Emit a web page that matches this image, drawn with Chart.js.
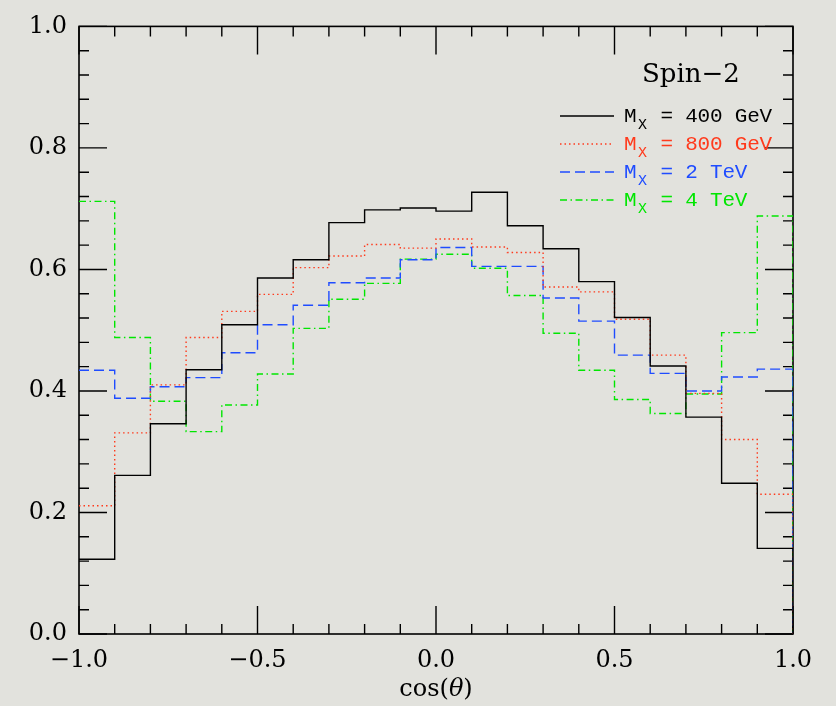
<!DOCTYPE html>
<html>
<head>
<meta charset="utf-8">
<script src="https://cdn.jsdelivr.net/npm/chart.js@4.4.1/dist/chart.umd.min.js"></script>
<style>
  html, body { margin: 0; padding: 0; background: #e2e2dd; }
  #c { display: block; }
</style>
</head>
<body>
<canvas id="c" width="836" height="706"></canvas>
<script>
// lower edge of each cos(theta) bin, width 0.1
var binLow = [-1.0, -0.9, -0.8, -0.7, -0.6, -0.5, -0.4, -0.3, -0.2, -0.1,
               0.0,  0.1,  0.2,  0.3,  0.4,  0.5,  0.6,  0.7,  0.8,  0.9];
var binHigh = 1.0;

var m400 = [0.123, 0.261, 0.346, 0.435, 0.509, 0.586, 0.616, 0.677, 0.698, 0.701,
            0.696, 0.727, 0.672, 0.634, 0.580, 0.521, 0.441, 0.357, 0.248, 0.141];
var m800 = [0.211, 0.331, 0.410, 0.488, 0.531, 0.559, 0.603, 0.622, 0.641, 0.635,
            0.650, 0.637, 0.628, 0.571, 0.563, 0.518, 0.459, 0.396, 0.320, 0.230];
var m2000 = [0.434, 0.388, 0.407, 0.422, 0.463, 0.509, 0.541, 0.578, 0.586, 0.616,
             0.636, 0.605, 0.605, 0.553, 0.515, 0.459, 0.429, 0.400, 0.423, 0.436];
var m4000 = [0.712, 0.488, 0.383, 0.333, 0.377, 0.428, 0.503, 0.551, 0.577, 0.617,
             0.625, 0.602, 0.557, 0.495, 0.434, 0.386, 0.363, 0.395, 0.496, 0.688];

var seriesNames = ['400 GeV', '800 GeV', '2 TeV', '4 TeV'];
var seriesColors = ['#000000', '#ff3a1c', '#1f4cff', '#00e600'];
var seriesDash = [[], [1.5, 3], [10, 5], [7, 3.5, 1.5, 3.5]];
var panelLabel = 'Spin\u22122';

// histogram outline: flat across each bin, drop to zero at the last edge
function outline(vals) {
    var pts = [];
    for (let i = 0; i < binLow.length; i++) {
        pts.push({ x: binLow[i], y: vals[i] });
    }
    pts.push({ x: binHigh, y: 0 });
    return pts;
}

var allSeries = [m400, m800, m2000, m4000];
var datasets = [];
for (let i = 0; i < allSeries.length; i++) {
    datasets.push({
        label: seriesNames[i],
        data: outline(allSeries[i]),
        stepped: 'before',
        borderColor: seriesColors[i],
        borderDash: seriesDash[i],
        borderWidth: 1.4,
        pointRadius: 0,
        fill: false
    });
}

function fmt(v) {
    var s = (Math.abs(v) < 1e-9 ? 0 : v).toFixed(1);
    return s.replace('-', '\u2212');
}

// inward ticks on all four sides, frame, legend and axis title
var frame = {
    id: 'frame',
    beforeDatasetsDraw: function(chart) {
        var ctx = chart.ctx;
        var a = chart.chartArea;
        var xs = chart.scales.x, ys = chart.scales.y;
        ctx.save();
        ctx.strokeStyle = '#000';
        ctx.lineWidth = 1.4;
        ctx.beginPath();
        for (let k = 0; k <= 20; k++) {
            var px = xs.getPixelForValue(-1 + k * 0.1);
            var len = (k % 5 === 0) ? 28 : 10;
            ctx.moveTo(px, a.bottom); ctx.lineTo(px, a.bottom - len);
            ctx.moveTo(px, a.top); ctx.lineTo(px, a.top + len);
        }
        for (let k = 0; k <= 25; k++) {
            var py = ys.getPixelForValue(k * 0.04);
            var len2 = (k % 5 === 0) ? 28 : 10;
            ctx.moveTo(a.left, py); ctx.lineTo(a.left + len2, py);
            ctx.moveTo(a.right, py); ctx.lineTo(a.right - len2, py);
        }
        ctx.stroke();
        ctx.lineWidth = 1.6;
        ctx.strokeRect(a.left, a.top, a.right - a.left, a.bottom - a.top);
        ctx.restore();
    },
    afterDraw: function(chart) {
        var ctx = chart.ctx;
        var a = chart.chartArea;
        ctx.save();
        ctx.fillStyle = '#000';
        ctx.font = '26px "DejaVu Serif"';
        ctx.textBaseline = 'alphabetic';
        ctx.fillText(panelLabel, a.left + 563, 82);

        for (let i = 0; i < seriesNames.length; i++) {
            var ly = 116 + i * 28;
            ctx.strokeStyle = seriesColors[i];
            ctx.lineWidth = 1.4;
            ctx.setLineDash(seriesDash[i]);
            ctx.beginPath();
            ctx.moveTo(a.left + 481, ly);
            ctx.lineTo(a.left + 535, ly);
            ctx.stroke();
            ctx.setLineDash([]);

            var tx = a.left + 545;
            ctx.fillStyle = seriesColors[i];
            ctx.font = '21px "Liberation Mono"';
            ctx.fillText('M', tx, ly + 6);
            ctx.font = '15px "Liberation Mono"';
            ctx.fillText('X', tx + 14, ly + 13);
            ctx.font = '21px "Liberation Mono"';
            var rest = ' = ' + seriesNames[i];
            // spread characters to the wide typewriter spacing of the original
            var cx0 = tx + 24;
            for (let c = 0; c < rest.length; c++) {
                ctx.fillText(rest[c], cx0 + c * 12.4, ly + 6);
            }
        }

        // x axis title with italic theta
        ctx.fillStyle = '#000';
        var parts = [['cos(', '24px "DejaVu Serif"'], ['\u03b8', 'italic 24px "DejaVu Serif"'], [')', '24px "DejaVu Serif"']];
        var total = 0;
        for (let p of parts) { ctx.font = p[1]; total += ctx.measureText(p[0]).width; }
        var cx = (a.left + a.right) / 2 - total / 2;
        for (let p of parts) {
            ctx.font = p[1];
            ctx.fillText(p[0], cx, 696);
            cx += ctx.measureText(p[0]).width;
        }
        ctx.restore();
    }
};

new Chart(document.getElementById('c'), {
    type: 'line',
    data: { datasets: datasets },
    options: {
        responsive: false,
        animation: false,
        devicePixelRatio: 1,
        layout: { padding: { top: 19, right: 43, left: 0, bottom: 0 } },
        plugins: {
            legend: { display: false },
            tooltip: { enabled: false }
        },
        scales: {
            x: {
                type: 'linear',
                min: -1,
                max: 1,
                grid: { display: false, drawTicks: false },
                border: { display: false },
                ticks: {
                    stepSize: 0.5,
                    padding: 12,
                    color: '#000',
                    font: { family: 'DejaVu Serif', size: 24 },
                    maxRotation: 0,
                    callback: function(v) { return fmt(v); }
                },
                afterFit: function(s) { s.height = 72; }
            },
            y: {
                min: 0,
                max: 1,
                grid: { display: false, drawTicks: false },
                border: { display: false },
                ticks: {
                    stepSize: 0.2,
                    padding: 12,
                    color: '#000',
                    font: { family: 'DejaVu Serif', size: 24 },
                    callback: function(v) { return fmt(v); }
                },
                afterFit: function(s) { s.width = 79; }
            }
        }
    },
    plugins: [frame]
});
</script>
</body>
</html>
